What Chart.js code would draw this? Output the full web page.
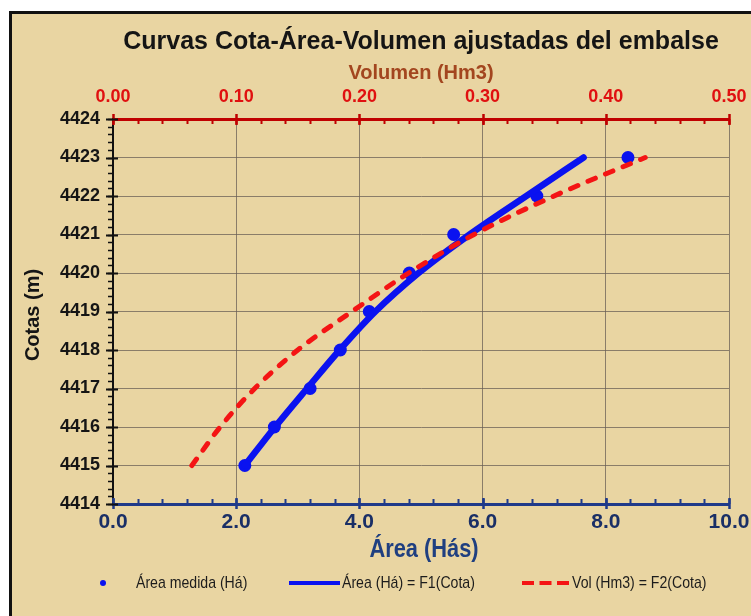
<!DOCTYPE html>
<html>
<head>
<meta charset="utf-8">
<script src="https://cdn.jsdelivr.net/npm/chart.js@4.4.1/dist/chart.umd.min.js"></script>
<style>
  html, body { margin: 0; padding: 0; background: #fff; }
  #wrap { width: 751px; height: 616px; }
</style>
</head>
<body>
<div id="wrap"><canvas id="embalseChart" width="751" height="616"></canvas></div>
<script>
// Cotas del embalse (m)
const cotas = [4415, 4416, 4417, 4418, 4419, 4420, 4421, 4422, 4423];
// Area medida en campo (Has)
const areaMedida = [2.14, 2.62, 3.20, 3.69, 4.16, 4.81, 5.53, 6.88, 8.36];
// Curva ajustada Area = F1(Cota)
const areaAjustada = [2.14, 2.63, 3.15, 3.68, 4.26, 4.96, 5.79, 6.71, 7.64];
// Curva ajustada Vol = F2(Cota), en Hm3
const volAjustado = [0.064, 0.087, 0.115, 0.150, 0.194, 0.240, 0.293, 0.358, 0.432];

// Etiquetas de los ejes
const areaTicks = [0, 2, 4, 6, 8, 10];
const volTicks = [0, 0.1, 0.2, 0.3, 0.4, 0.5];
const cotaTicks = [4414, 4415, 4416, 4417, 4418, 4419, 4420, 4421, 4422, 4423, 4424];

const SANS = '"Liberation Sans", Arial, Helvetica, sans-serif';

const BLUE = '#0a12f0';
const RED = '#f41414';

function toXY(xs, ys) {
  return xs.map((x, i) => ({ x: x, y: ys[i] }));
}

// texto estrecho: se comprime en horizontal
function narrowText(ctx, text, x, y, sx, align) {
  ctx.save();
  ctx.translate(x, y);
  ctx.scale(sx, 1);
  ctx.textAlign = align;
  ctx.fillText(text, 0, 0);
  ctx.restore();
}

// papel de fondo con marco negro
const parchment = {
  id: 'parchment',
  beforeDraw(chart) {
    const { ctx, width, height } = chart;
    ctx.save();
    ctx.fillStyle = '#fff';
    ctx.fillRect(0, 0, width, height);
    ctx.fillStyle = '#e9d5a2';
    ctx.fillRect(10, 12, width - 10, height - 12);
    ctx.strokeStyle = '#111';
    ctx.lineWidth = 3;
    ctx.beginPath();
    ctx.moveTo(10.5, height);
    ctx.lineTo(10.5, 12.5);
    ctx.lineTo(width, 12.5);
    ctx.stroke();
    ctx.restore();
  }
};

// marcas mayores y menores de los ejes
function tickMarks(ctx, scale, step, horizontal, base, a, b, color, lw) {
  ctx.strokeStyle = color;
  ctx.lineWidth = lw;
  ctx.beginPath();
  const n = Math.round((scale.max - scale.min) / step);
  for (let i = 0; i <= n; i++) {
    const p = Math.round(scale.getPixelForValue(scale.min + i * step)) + 0.5;
    if (horizontal) {
      ctx.moveTo(p, base + a);
      ctx.lineTo(p, base + b);
    } else {
      ctx.moveTo(base + a, p);
      ctx.lineTo(base + b, p);
    }
  }
  ctx.stroke();
}

const axisTicks = {
  id: 'axisTicks',
  afterDraw(chart) {
    const { ctx, chartArea, scales } = chart;
    ctx.save();
    // eje superior (volumen)
    tickMarks(ctx, scales.x2, 0.02, true, chartArea.top, 0, 5, '#c00000', 2);
    tickMarks(ctx, scales.x2, 0.1, true, chartArea.top, -5, 6, '#c00000', 2.5);
    // eje inferior (area)
    tickMarks(ctx, scales.x, 0.4, true, chartArea.bottom, -5, 0, '#1f3a8a', 2);
    tickMarks(ctx, scales.x, 2, true, chartArea.bottom, -6, 5, '#1f3a8a', 2.5);
    // eje izquierdo (cotas)
    tickMarks(ctx, scales.y, 0.2, false, chartArea.left, -5, 0, '#111', 1.5);
    tickMarks(ctx, scales.y, 1, false, chartArea.left, -7, 5, '#111', 2);
    ctx.restore();
  }
};

// titulos y leyenda
const labels = {
  id: 'labels',
  afterDraw(chart) {
    const { ctx } = chart;
    ctx.save();
    ctx.textBaseline = 'middle';
    ctx.textAlign = 'center';

    ctx.fillStyle = '#151515';
    ctx.font = 'bold 25px ' + SANS;
    ctx.fillText('Curvas Cota-Área-Volumen ajustadas del embalse', 421, 42);

    ctx.fillStyle = '#a3461f';
    ctx.font = 'bold 20px ' + SANS;
    ctx.fillText('Volumen (Hm3)', 421, 73);

    ctx.fillStyle = '#1f3f80';
    ctx.font = 'bold 26px ' + SANS;
    narrowText(ctx, 'Área (Hás)', 424, 550, 0.84, 'center');

    ctx.save();
    ctx.translate(33, 315);
    ctx.rotate(-Math.PI / 2);
    ctx.fillStyle = '#151515';
    ctx.font = 'bold 20px ' + SANS;
    ctx.fillText('Cotas (m)', 0, 0);
    ctx.restore();

    // leyenda
    const ly = 583;
    ctx.font = '17px ' + SANS;

    ctx.fillStyle = BLUE;
    ctx.beginPath();
    ctx.arc(103, ly, 3, 0, Math.PI * 2);
    ctx.fill();
    ctx.fillStyle = '#1c1c1c';
    narrowText(ctx, 'Área medida (Há)', 136, ly, 0.83, 'left');

    ctx.strokeStyle = BLUE;
    ctx.lineWidth = 4;
    ctx.beginPath();
    ctx.moveTo(289, ly);
    ctx.lineTo(340, ly);
    ctx.stroke();
    narrowText(ctx, 'Área (Há) = F1(Cota)', 342, ly, 0.83, 'left');

    ctx.strokeStyle = RED;
    ctx.beginPath();
    [522, 539.5, 557].forEach(x0 => {
      ctx.moveTo(x0, ly);
      ctx.lineTo(x0 + 12, ly);
    });
    ctx.stroke();
    narrowText(ctx, 'Vol (Hm3) = F2(Cota)', 572, ly, 0.83, 'left');

    ctx.restore();
  }
};

const gridColor = 'rgba(105, 95, 85, 0.75)';

new Chart(document.getElementById('embalseChart'), {
  type: 'scatter',
  data: {
    datasets: [
      {
        label: 'Vol (Hm3) = F2(Cota)',
        data: toXY(volAjustado, cotas),
        xAxisID: 'x2',
        yAxisID: 'y',
        showLine: true,
        borderColor: RED,
        borderWidth: 5,
        borderDash: [8, 11],
        borderCapStyle: 'round',
        cubicInterpolationMode: 'monotone',
        pointRadius: 0
      },
      {
        label: 'Área (Há) = F1(Cota)',
        data: toXY(areaAjustada, cotas),
        xAxisID: 'x',
        yAxisID: 'y',
        showLine: true,
        borderColor: BLUE,
        borderWidth: 6.5,
        borderCapStyle: 'round',
        cubicInterpolationMode: 'monotone',
        pointRadius: 0
      },
      {
        label: 'Área medida (Há)',
        data: toXY(areaMedida, cotas),
        xAxisID: 'x',
        yAxisID: 'y',
        backgroundColor: BLUE,
        borderColor: BLUE,
        pointRadius: 6.5,
        pointBorderWidth: 0
      }
    ]
  },
  options: {
    responsive: false,
    animation: false,
    layout: { padding: { left: 0, right: 22, top: 0, bottom: 0 } },
    scales: {
      x: {
        type: 'linear',
        position: 'bottom',
        min: 0,
        max: 10,
        afterBuildTicks: axis => { axis.ticks = areaTicks.map(v => ({ value: v })); },
        afterFit: axis => { axis.height = 112; axis.paddingLeft = 0; axis.paddingRight = 0; },
        ticks: {
          callback: v => v.toFixed(1),
          color: '#1a2f66',
          font: { family: SANS, size: 21, weight: 'bold' },
          padding: 6,
          maxRotation: 0
        },
        grid: { color: gridColor, lineWidth: 1, drawTicks: false },
        border: { color: '#1f3a8a', width: 3 }
      },
      x2: {
        type: 'linear',
        position: 'top',
        min: 0,
        max: 0.5,
        afterBuildTicks: axis => { axis.ticks = volTicks.map(v => ({ value: v })); },
        afterFit: axis => { axis.height = 119; axis.paddingLeft = 0; axis.paddingRight = 0; },
        ticks: {
          callback: v => v.toFixed(2),
          color: '#e01010',
          font: { family: SANS, size: 18, weight: 'bold' },
          padding: 11,
          maxRotation: 0
        },
        grid: { drawOnChartArea: false, drawTicks: false },
        border: { color: '#c00000', width: 3 }
      },
      y: {
        type: 'linear',
        position: 'left',
        min: 4414,
        max: 4424,
        afterBuildTicks: axis => { axis.ticks = cotaTicks.map(v => ({ value: v })); },
        afterFit: axis => { axis.width = 113; axis.paddingTop = 0; axis.paddingBottom = 0; },
        ticks: {
          callback: v => String(v),
          color: '#151515',
          font: { family: SANS, size: 18, weight: 'bold' },
          padding: 13
        },
        grid: { color: gridColor, lineWidth: 1, drawTicks: false },
        border: { color: '#111', width: 2 }
      }
    },
    plugins: {
      legend: { display: false },
      title: { display: false },
      tooltip: { enabled: false }
    }
  },
  plugins: [parchment, axisTicks, labels]
});
</script>
</body>
</html>
